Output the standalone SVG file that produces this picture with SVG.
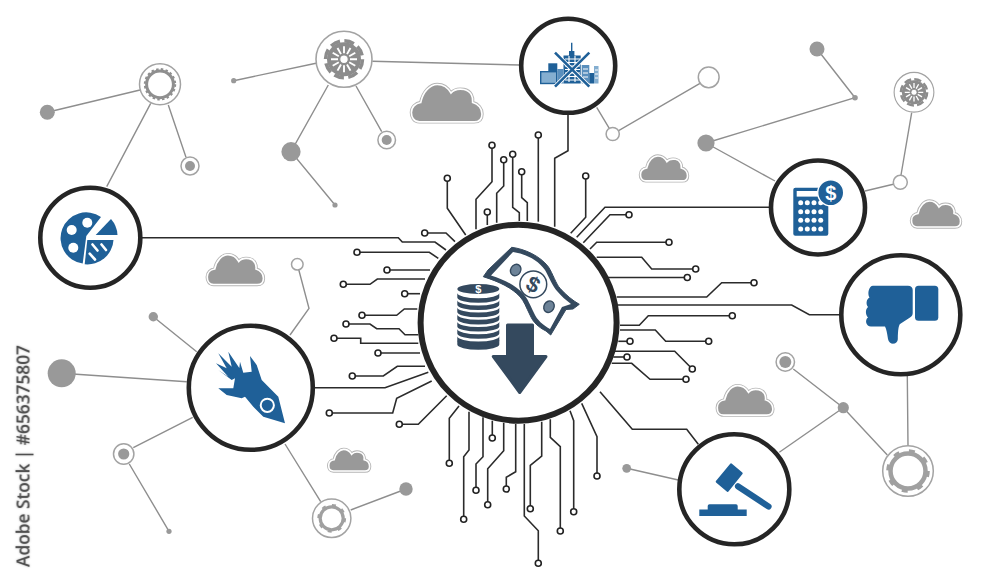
<svg xmlns="http://www.w3.org/2000/svg" xmlns:xlink="http://www.w3.org/1999/xlink" width="1000" height="583" viewBox="0 0 1000 583">
<style>
.c{fill:none;stroke:#2b2b2b;stroke-width:1.6;stroke-linejoin:miter}
.t{marker-start:url(#term)}
.g{fill:none;stroke:#8e8e8e;stroke-width:1.4}
.d{fill:#999}
.rd{fill:#fff;stroke:#a3a3a3;stroke-width:1.5}
.ring{fill:#fff;stroke:#252525}
.b{fill:#1f6098}
.n{fill:#34495e}
.wh{fill:#fff}
.cl1{fill:none;stroke:#b5b5b5;stroke-width:3.4;vector-effect:non-scaling-stroke}
.cl2{fill:#999;stroke:#fff;stroke-width:1.6;vector-effect:non-scaling-stroke}
.sym{font-family:"Liberation Sans",Arial,sans-serif;font-weight:700;text-anchor:middle}
</style>
<defs>
<marker id="term" markerWidth="10" markerHeight="10" refX="5" refY="5" markerUnits="userSpaceOnUse"><circle cx="5" cy="5" r="3" fill="#fff" stroke="#222" stroke-width="1.6"/></marker>
<g id="cloud">
<path id="cp" class="cl1" d="M12,54C4,54 1,47 1,41C1,33 7,28 14,27C17,12 27,2 37,2C46,2 52,7 56,14C60,9 68,8 74,9C84,11 87,20 86,27C94,29 99,36 99,43C99,50 95,54 88,54Z"/>
<path class="cl2" d="M12,54C4,54 1,47 1,41C1,33 7,28 14,27C17,12 27,2 37,2C46,2 52,7 56,14C60,9 68,8 74,9C84,11 87,20 86,27C94,29 99,36 99,43C99,50 95,54 88,54Z"/>
</g>
<g id="wheel">
<circle r="28" fill="#fff" stroke="#a3a3a3" stroke-width="1.6"/>
<circle r="17" fill="#8c8c8c"/>
<circle r="18.5" fill="none" stroke="#8c8c8c" stroke-width="3.5" stroke-dasharray="10 4.5"/>
<g stroke="#fff" stroke-width="1.9">
<path d="M0-6V-13M0 6V13M-6 0H-13M6 0H13M3-5.2L6.5-11.3M-3 5.2L-6.5 11.3M3 5.2L6.5 11.3M-3-5.2L-6.5-11.3M5.2-3L11.3-6.5M-5.2 3L-11.3 6.5M5.2 3L11.3 6.5M-5.2-3L-11.3-6.5"/>
</g>
<circle r="4.3" fill="#fff" stroke="#8c8c8c" stroke-width="1.2"/>
</g>
<path id="coin" d="M-21,0A21,5.2 0 0 0 21,0V4.6A21,5.2 0 0 1 -21,4.6Z"/>
</defs>
<rect width="1000" height="583" fill="#fff"/>
<g id="connectors">
<g id="grey-links">
<path class="g" d="M47.3,112.3L140,90M150.7,103.3L106.7,186.7M168.3,105L186,157.3"/>
<path class="g" d="M233.7,80.7L316,63.3M372.3,61.3L520,65M328.3,85L291,151.7L335,205M356,86L381.7,131.7"/>
<path class="g" d="M596.7,107.3L612.7,134L700,83.3"/>
<path class="g" d="M706,143L855,97.7L817,49M706,143L775,181"/>
<path class="g" d="M911.7,112.7L901,175M893.3,184.3L865,191"/>
<path class="g" d="M907.3,376L908,446M793.3,369L843.3,407.7L887.3,455M843.3,407.7L779.3,452.3M626.7,468.3L678.3,480"/>
<path class="g" d="M61.7,373.3L186.7,381.7M153.3,316.7L196.7,351.7M133.3,447.7L192.7,417.3M129.3,464L169,531.3"/>
<path class="g" d="M285,444L320.7,501.7M350.7,510L406,489M297.3,264.3L309,308.3L290,335"/>
</g>
<g id="circuit-top">
<path class="c t" d="M447.3,178.3V208.3L465.7,235"/>
<path class="c t" d="M492,145.3V181.7L476,199.3V229.3"/>
<path class="c t" d="M503.7,159.7V186L496.7,193.3V222.7"/>
<path class="c t" d="M487.3,212V225"/>
<path class="c t" d="M512.7,154.3V207.3L519.3,212.7V221"/>
<path class="c t" d="M521.7,171.7V197.7L527.3,202.7V221"/>
<path class="c t" d="M538.3,135V221.7"/>
<path class="c" d="M568,113V150.7L554.7,158.3V226.7"/>
<path class="c t" d="M585.7,176V217.3L570.7,233.3"/>
<path class="c" d="M770,207.3H605L576.7,237.3"/>
<path class="c t" d="M629,214.7H610L583.3,242.7"/>
</g>
<g id="circuit-right">
<path class="c t" d="M669,242.3H596.7L590,249"/>
<path class="c t" d="M695.7,269H651.7L641.7,257.3H596.7"/>
<path class="c t" d="M687.3,277.5H606.7"/>
<path class="c t" d="M754,282.7H721.7L706.7,297H616.7"/>
<path class="c" d="M842,314.7H809.3L791.7,305H618"/>
<path class="c t" d="M732.3,315.7H648.3L639.3,325.3H620"/>
<path class="c t" d="M708.7,341.3H665.7L655.3,330H620"/>
<path class="c t" d="M630,341.3H618.3"/>
<path class="c t" d="M692.3,369L674.7,351.3H613.3"/>
<path class="c t" d="M627,357H613.3"/>
<path class="c t" d="M686,379.3H650L631.7,363.3H611.7"/>
<path class="c" d="M600,391.7L632.3,429.3H686.7L698.3,444.3"/>
</g>
<g id="circuit-bottom">
<path class="c t" d="M449.3,463.3V418.3L459,406"/>
<path class="c t" d="M463.7,519.3V456.7L469,450V411.7"/>
<path class="c t" d="M476,490.3V464L483,456.7V417.3"/>
<path class="c t" d="M492.3,438V420.7"/>
<path class="c t" d="M487.7,504.7V468.7L503.7,450.7V422.7"/>
<path class="c t" d="M506.3,489V477.3L515.7,471.7V424"/>
<path class="c t" d="M538.3,563.3V530.7L524.3,516V424"/>
<path class="c t" d="M530.3,508.7V465.3L541.7,456V421.7"/>
<path class="c t" d="M560.3,531V446.7L550.3,437.3V419.3"/>
<path class="c t" d="M573.7,511.7V420.7L570,410.7"/>
<path class="c t" d="M597,476V436.7L581.7,403.3"/>
</g>
<g id="circuit-left">
<path class="c t" d="M424.7,233H446L455,241.7"/>
<path class="c" d="M140,237.7H398.3L402.3,242H435L446,250"/>
<path class="c t" d="M357,252.3H429.3L438.3,258.3"/>
<path class="c t" d="M387,270H430"/>
<path class="c t" d="M343.3,284.3H370L377.3,279H425"/>
<path class="c t" d="M404.7,293.7H420"/>
<path class="c t" d="M362,315.3H396.7L404.3,309H417.3"/>
<path class="c t" d="M346,324H370L376.7,328.7H399L405,334.7H418.3"/>
<path class="c t" d="M334,338.3H360.7V343.3H418.3"/>
<path class="c t" d="M378,353H420"/>
<path class="c t" d="M352.3,376H383.3L397.3,366.3H425"/>
<path class="c" d="M312,387.7H385L428.3,372.3"/>
<path class="c t" d="M329.3,413H392.7L396.7,398.3L431.7,381"/>
<path class="c t" d="M399.3,424.3H418.3L446.7,395.7"/>
</g>
</g>
<g id="clouds">
<use xlink:href="#cloud" href="#cloud" transform="translate(410.7,83) scale(.72)"/>
<use xlink:href="#cloud" href="#cloud" transform="translate(640,155) scale(.48)"/>
<use xlink:href="#cloud" href="#cloud" transform="translate(911,200) scale(.5)"/>
<use xlink:href="#cloud" href="#cloud" transform="translate(716.7,384.5) scale(.567)"/>
<use xlink:href="#cloud" href="#cloud" transform="translate(328.3,448.5) scale(.417)"/>
<use xlink:href="#cloud" href="#cloud" transform="translate(206.7,253.5) scale(.573)"/>
</g>
<g id="grey-dots">
<circle class="d" cx="47.3" cy="112.3" r="7.5"/>
<circle class="rd" cx="190" cy="166" r="9"/><circle class="d" cx="190" cy="166" r="5"/>
<circle class="d" cx="233.7" cy="80.7" r="2.6"/>
<circle class="d" cx="291" cy="151.7" r="9.6"/>
<circle class="d" cx="335" cy="205" r="2.6"/>
<circle class="rd" cx="386.7" cy="140" r="8.8"/><circle class="d" cx="386.7" cy="140" r="5"/>
<circle class="rd" cx="612.7" cy="134" r="6.6"/>
<circle class="rd" cx="708.7" cy="77.3" r="10.4"/>
<circle class="d" cx="706" cy="143" r="8.6"/>
<circle class="d" cx="855" cy="97.7" r="2.8"/>
<circle class="d" cx="817" cy="49" r="7.5"/>
<circle class="rd" cx="900.3" cy="182.3" r="7"/>
<circle class="rd" cx="785.3" cy="362" r="9.2"/><circle class="d" cx="785.3" cy="362" r="6"/>
<circle class="d" cx="843.3" cy="407.7" r="5.6"/>
<circle class="d" cx="626.7" cy="468.3" r="4.4"/>
<circle class="d" cx="61.7" cy="373.3" r="14"/>
<circle class="d" cx="153.3" cy="316.7" r="4.7"/>
<circle class="rd" cx="123.7" cy="454" r="10.2"/><circle class="d" cx="123.7" cy="454" r="5.6"/>
<circle class="d" cx="169" cy="531.3" r="2.6"/>
<circle class="d" cx="406" cy="489" r="6.7"/>
<circle class="rd" cx="297.3" cy="264.3" r="5.8"/>
</g>
<g id="gear-1">
<circle class="rd" cx="160" cy="84.3" r="20.5"/>
<circle cx="160" cy="84.3" r="13.4" fill="none" stroke="#8f8f8f" stroke-width="3"/>
<circle cx="160" cy="84.3" r="15.2" fill="none" stroke="#8f8f8f" stroke-width="2" stroke-dasharray="2.5 2.3"/>
</g>
<use id="wheel-1" xlink:href="#wheel" href="#wheel" transform="translate(344,59.3)"/>
<use id="wheel-2" xlink:href="#wheel" href="#wheel" transform="translate(914,92.3) scale(.71)"/>
<g id="gear-2">
<circle class="rd" cx="908" cy="471" r="25.3"/>
<circle cx="908" cy="471" r="17.5" fill="none" stroke="#a0a0a0" stroke-width="4.5"/>
<circle cx="908" cy="471" r="20.3" fill="none" stroke="#a0a0a0" stroke-width="3" stroke-dasharray="6 10"/>
</g>
<g id="gear-3">
<circle class="rd" cx="331.7" cy="518.3" r="19.2"/>
<circle cx="331.7" cy="518.3" r="11.5" fill="none" stroke="#a0a0a0" stroke-width="3.2"/>
<circle cx="331.7" cy="518.3" r="13.4" fill="none" stroke="#a0a0a0" stroke-width="2" stroke-dasharray="4 6.5"/>
</g>
<g id="node-pie">
<circle class="ring" cx="90.3" cy="237.7" r="50" stroke-width="4.6"/>
<path class="b" d="M101,217L86.3,236L82.7,263.5A25.7,25.7 0 1 1 101,217Z"/>
<circle class="wh" cx="71.7" cy="230" r="5"/><circle class="wh" cx="87.3" cy="222.7" r="5"/><circle class="wh" cx="73.3" cy="247.7" r="5"/>
<path class="b" d="M111,219A26,26 0 0 1 117.5,235H95.7Z"/>
<path class="b" d="M87.3,240H113.5A26,26 0 0 1 84.7,264.3Z"/>
<path d="M92.5,244.5L97.5,250.5M101.5,244.5L106,250M89.7,253.7L95,259.5" stroke="#fff" stroke-width="2.6" stroke-linecap="round"/>
</g>
<g id="node-rocket">
<circle class="ring" cx="250.8" cy="387.8" r="62" stroke-width="4.6"/>
<path class="b" d="M285,423.3L278.3,396.7L261.7,380L256.7,365L250,356L251.7,371.7L243.3,372.7L240,361.7L239.3,368L228.3,351.7L231.7,366.7L218.3,353.3L226.7,368.3L216,363.3L228.3,376.7L218.3,370L231.7,380L235,378.3L233.3,388.3L218.3,388.3L226.7,395L241.7,398.3L245,396.7L253.3,406.7L263.3,416.7Z"/>
<circle cx="267.3" cy="405.3" r="6.6" fill="#1f6098" stroke="#fff" stroke-width="2"/>
</g>
<g id="node-city">
<circle class="ring" cx="568.2" cy="65.8" r="47" stroke-width="4.6"/>
<path class="b" d="M571,42.7h1.4V51h2V55.5h6.3V83.5H563.5V55.5h5.5V51h2Z"/>
<rect x="540.7" y="71.7" width="16" height="11.8" fill="#84aed0" stroke="#1f6098" stroke-width="1.4"/>
<rect class="b" x="548.3" y="63.3" width="9" height="8.4"/>
<rect x="557.3" y="69" width="6.2" height="14.5" fill="#5a8fbd"/>
<path d="M565,59h15M565,62.5h15M565,66h15M565,69.5h15M565,73h15M565,76.5h15M565,80h15M569,56v26M575,56v26" stroke="#fff" stroke-width="1.1"/>
<rect x="581.7" y="65" width="7.6" height="18.5" fill="#5a8fbd"/>
<rect x="589.3" y="73" width="4.7" height="10.5" fill="#1f6098"/>
<rect x="594" y="66" width="4.5" height="17.5" fill="#84aed0"/>
<path d="M583,69h5M583,73h5M583,77h5M595,70h3M595,74h3M595,78h3" stroke="#fff" stroke-width="1"/>
<path d="M555,52.7L589.3,86.7M589.3,52.7L555,86.7" stroke="#fff" stroke-width="4.4"/>
<path d="M555,52.7L589.3,86.7M589.3,52.7L555,86.7" stroke="#1f6098" stroke-width="2.6"/>
</g>
<g id="node-calculator">
<circle class="ring" cx="818" cy="207.5" r="47" stroke-width="4.6"/>
<rect class="b" x="793.3" y="187.7" width="35" height="48" rx="2"/>
<rect class="wh" x="796.7" y="191" width="22" height="5.6"/>
<g class="wh">
<circle cx="800.7" cy="202.7" r="2.5"/><circle cx="807.3" cy="202.7" r="2.5"/><circle cx="814" cy="202.7" r="2.5"/><circle cx="820.7" cy="202.7" r="2.5"/>
<circle cx="800.7" cy="211.7" r="2.5"/><circle cx="807.3" cy="211.7" r="2.5"/><circle cx="814" cy="211.7" r="2.5"/><circle cx="820.7" cy="211.7" r="2.5"/>
<circle cx="800.7" cy="220.3" r="2.5"/><circle cx="807.3" cy="220.3" r="2.5"/><circle cx="814" cy="220.3" r="2.5"/><circle cx="820.7" cy="220.3" r="2.5"/>
<circle cx="800.7" cy="229" r="2.5"/><circle cx="807.3" cy="229" r="2.5"/><circle cx="814" cy="229" r="2.5"/><circle cx="820.7" cy="229" r="2.5"/>
</g>
<circle cx="830.7" cy="192.7" r="13" fill="#1f6098" stroke="#fff" stroke-width="1.4"/>
<text class="sym" x="830.7" y="199.8" font-size="20" fill="#fff">$</text>
</g>
<g id="node-thumb">
<circle class="ring" cx="900.8" cy="314.7" r="59.5" stroke-width="4.6"/>
<rect class="b" x="915" y="285.7" width="23.3" height="35" rx="3.5"/>
<path class="b" d="M873,285.7H908C911,285.7 912.7,287.5 912.7,290V313C912.7,315 912,316 910,317.5L900,324C898.5,326 898,330 897.8,339C897.7,345 889,345.5 888,339C887,333 886.5,329 885,326.5H871C866,326.5 864.5,320 868,317.5C865,314 865.5,309 868,307C865.5,304 866.5,299 869.5,297.5C867,293.5 869,285.7 873,285.7Z"/>
</g>
<g id="node-gavel">
<circle class="ring" cx="734.3" cy="489.3" r="55" stroke-width="4.6"/>
<path class="b" stroke="#1f6098" stroke-width="2" stroke-linejoin="round" d="M731,464.3L741.7,473.3L727.7,491L716.7,481.7Z"/>
<path d="M738,486.3L768.5,506.5" stroke="#1f6098" stroke-width="6.2" stroke-linecap="round"/>
<path class="b" d="M707.7,506Q707.7,504.3 709.5,504.3H736Q737.7,504.3 737.7,506V509.4H746.7V516H699.3V509.4H707.7Z"/>
</g>
<g id="node-centre">
<circle class="ring" cx="518.6" cy="322.7" r="98" stroke-width="6"/>
<g class="n" transform="translate(478.3,0)">
<ellipse cx="0" cy="289" rx="21" ry="5"/>
<use xlink:href="#coin" href="#coin" y="293"/>
<use xlink:href="#coin" href="#coin" y="300.2"/>
<use xlink:href="#coin" href="#coin" y="307.4"/>
<use xlink:href="#coin" href="#coin" y="314.6"/>
<use xlink:href="#coin" href="#coin" y="321.8"/>
<use xlink:href="#coin" href="#coin" y="329"/>
<use xlink:href="#coin" href="#coin" y="336.2"/>
<use xlink:href="#coin" href="#coin" y="340"/>
</g>
<text class="sym" x="478.3" y="293" font-size="11" fill="#fff">$</text>
<path class="n" stroke="#34495e" stroke-width="1" stroke-linejoin="round" d="M511.7,247.3C525,249 540,256 548.3,266.7C553,274 556,284 560,288.3C566,295 572,300 579.3,304.3L573,309L566,309.5L550.7,335L546,331C538,327 533,322 530,315C526,307 524,301 520,296.7C512,288 500,282 483.3,276.7L488,270Z"/>
<path class="wh" d="M513,252C526,254 538,260 545,270C549,277 553,287 557,291C561,296 566,300 571,304L562,307L550,329C543,325 537,320 534,313C530,305 528,299 523.5,294C515,285 505,280 491,275.5Z"/>
<circle cx="533.3" cy="284.3" r="13.4" fill="#fff" stroke="#34495e" stroke-width="1.5"/>
<text class="sym" x="533.3" y="292" font-size="22" fill="#34495e" transform="rotate(28 533.3 284.3)">$</text>
<ellipse cx="515.7" cy="270" rx="5" ry="6" fill="#6d8398" stroke="#34495e" stroke-width="1.4" transform="rotate(30 515.7 270)"/>
<ellipse cx="549" cy="306.7" rx="5" ry="6" fill="#6d8398" stroke="#34495e" stroke-width="1.4" transform="rotate(30 549 306.7)"/>
<path class="n" stroke="#34495e" stroke-width="3" stroke-linejoin="round" d="M507.5,325H532.5V356.5H546L519.7,392.5L493.3,356.5H507.5Z"/>
</g>
<text id="credit" transform="translate(29.5,567) rotate(-90)" font-family="'Open Sans','Liberation Sans',sans-serif" font-size="18.5" font-weight="600" fill="#505050" textLength="222" lengthAdjust="spacingAndGlyphs" style="filter:drop-shadow(0 0 1px #bbb)">Adobe Stock | #656375807</text>
</svg>
